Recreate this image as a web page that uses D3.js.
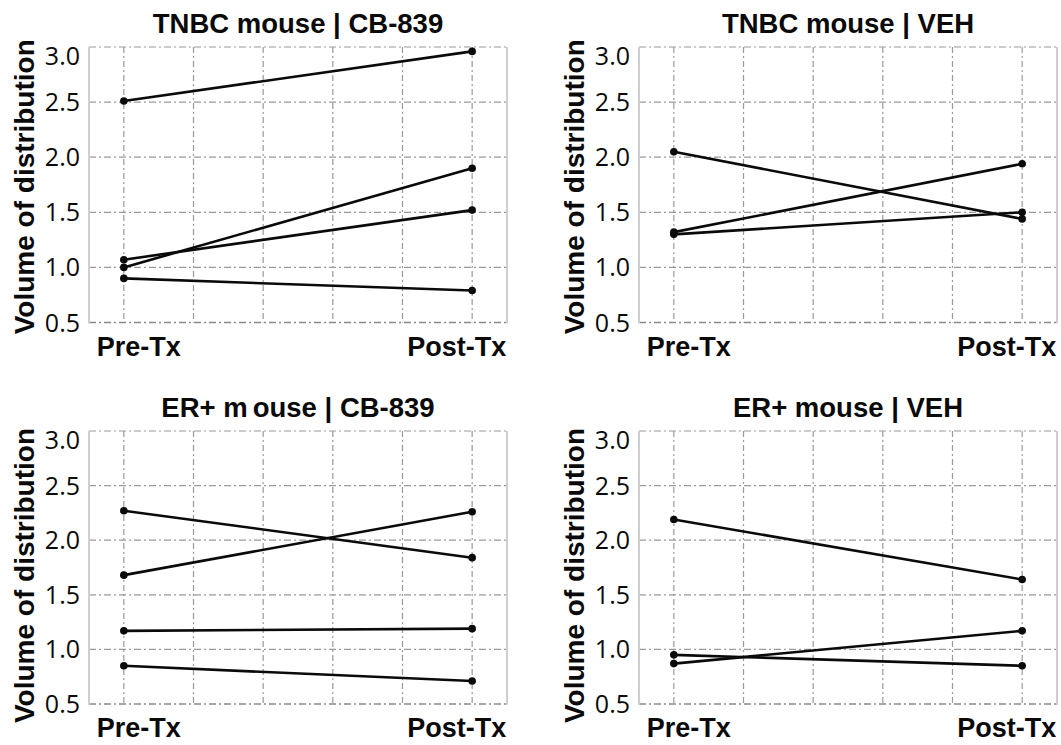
<!DOCTYPE html>
<html>
<head>
<meta charset="utf-8">
<script src="https://cdn.jsdelivr.net/npm/d3@7"></script>
<style>
  html, body { margin: 0; padding: 0; background: #fff; }
  svg { display: block; }
</style>
</head>
<body>
<svg id="chart" width="1061" height="745"></svg>
<script>
// Time points and axis ticks
const phases = ["Pre-Tx", "Post-Tx"];
const yTicks = [0.5, 1.0, 1.5, 2.0, 2.5, 3.0];
const yTickLabels = ["0.5", "1.0", "1.5", "2.0", "2.5", "3.0"];
const yAxisTitle = "Volume of distribution";

// Panel titles (row-major); the ER+ CB-839 title is typeset with a gap after "m"
const panelTitles = ["TNBC mouse | CB-839", "TNBC mouse | VEH", "ER+ mouse | CB-839", "ER+ mouse | VEH"];

// Volume of distribution per animal, before and after treatment
const tnbcCb839Pre  = [2.51, 1.07, 1.00, 0.90];
const tnbcCb839Post = [2.96, 1.52, 1.90, 0.79];
const tnbcVehPre    = [2.05, 1.32, 1.30];
const tnbcVehPost   = [1.44, 1.94, 1.50];
const erCb839Pre    = [2.27, 1.68, 1.17, 0.85];
const erCb839Post   = [1.84, 2.26, 1.19, 0.71];
const erVehPre      = [2.19, 0.95, 0.87];
const erVehPost     = [1.64, 0.85, 1.17];

const panelPre  = [tnbcCb839Pre, tnbcVehPre, erCb839Pre, erVehPre];
const panelPost = [tnbcCb839Post, tnbcVehPost, erCb839Post, erVehPost];

// Plot-area frames for the 2x2 grid
const frames = [
  { left: 89,  right: 507,  top: 47,  bottom: 322.5 },
  { left: 639, right: 1057, top: 47,  bottom: 322.5 },
  { left: 89,  right: 507,  top: 431, bottom: 704 },
  { left: 639, right: 1057, top: 431, bottom: 704 }
];

const svg = d3.select("#chart");
const gridColor = "#9a9a9a";
const frameColor = "#cfcfcf";
const inkColor = "#0a0a0a";
const boldFont = "'Liberation Sans', Arial, sans-serif";

frames.forEach((f, i) => {
  const g = svg.append("g");
  // six grid columns; the two time points sit on the outer ones
  const x = d3.scaleLinear().domain([-0.5, 5.5]).range([f.left, f.right]);
  const y = d3.scaleLinear().domain([0.5, 3.0]).range([f.bottom, f.top]);
  const xPos = { "Pre-Tx": x(0), "Post-Tx": x(5) };

  // vertical dash-dot grid lines
  g.selectAll("line.vgrid").data(d3.range(0, 6)).join("line")
    .attr("class", "vgrid")
    .attr("x1", d => x(d)).attr("x2", d => x(d))
    .attr("y1", f.top).attr("y2", f.bottom)
    .attr("stroke", gridColor).attr("stroke-width", 1.2)
    .attr("stroke-dasharray", "6,3,2,3");

  // horizontal dash-dot grid lines (incl. top and bottom edges)
  g.selectAll("line.hgrid").data(yTicks).join("line")
    .attr("class", "hgrid")
    .attr("x1", f.left).attr("x2", f.right)
    .attr("y1", d => y(d)).attr("y2", d => y(d))
    .attr("stroke", d => (d === 0.5 ? "#8a8a8a" : gridColor))
    .attr("stroke-width", d => (d === 0.5 ? 1.6 : 1.2))
    .attr("stroke-dasharray", "7,3,2,3");

  // solid side frame lines
  [f.left, f.right].forEach(xx => {
    g.append("line")
      .attr("x1", xx).attr("x2", xx)
      .attr("y1", f.top).attr("y2", f.bottom + 1)
      .attr("stroke", frameColor).attr("stroke-width", 2);
  });

  // y tick labels (the top one sits a little below its grid line)
  g.selectAll("text.ytick").data(yTicks).join("text")
    .attr("class", "ytick")
    .attr("x", f.left - 9)
    .attr("y", d => y(d) + (d === 3.0 ? 9 : 0))
    .attr("dy", "0.36em")
    .attr("text-anchor", "end")
    .attr("font-family", "'Open Sans', 'Noto Sans', sans-serif")
    .attr("font-size", 25)
    .attr("fill", inkColor)
    .text((d, k) => yTickLabels[k]);

  // y axis title
  const cy = (f.top + f.bottom) / 2 + (i < 2 ? 2 : 8);
  g.append("text")
    .attr("transform", `translate(${f.left - 55},${cy}) rotate(-90)`)
    .attr("text-anchor", "middle")
    .attr("font-family", boldFont)
    .attr("font-weight", "bold")
    .attr("font-size", 28)
    .attr("fill", inkColor)
    .text(yAxisTitle);

  // x category labels
  g.append("text")
    .attr("x", xPos["Pre-Tx"] - 27)
    .attr("y", f.bottom + 33)
    .attr("text-anchor", "start")
    .attr("font-family", boldFont)
    .attr("font-weight", "bold")
    .attr("font-size", 27)
    .attr("fill", inkColor)
    .text(phases[0]);
  g.append("text")
    .attr("x", xPos["Post-Tx"] + 34)
    .attr("y", f.bottom + 33)
    .attr("text-anchor", "end")
    .attr("font-family", boldFont)
    .attr("font-weight", "bold")
    .attr("font-size", 27)
    .attr("fill", inkColor)
    .text(phases[1]);

  // panel title
  const title = g.append("text")
    .attr("x", (f.left + f.right) / 2)
    .attr("y", f.top - 14)
    .attr("text-anchor", "middle")
    .attr("font-family", boldFont)
    .attr("font-weight", "bold")
    .attr("font-size", 27.5)
    .attr("fill", inkColor);
  if (i === 2) {
    const t = panelTitles[i];
    const cut = t.indexOf("m") + 1;
    title.append("tspan").text(t.slice(0, cut));
    title.append("tspan").attr("dx", 5).text(t.slice(cut));
  } else {
    title.text(panelTitles[i]);
  }

  // paired lines, one per animal
  const pairs = panelPre[i].map((v, k) => [
    { phase: phases[0], v: v },
    { phase: phases[1], v: panelPost[i][k] }
  ]);
  const line = d3.line().x(d => xPos[d.phase]).y(d => y(d.v));
  g.selectAll("path.pair").data(pairs).join("path")
    .attr("class", "pair")
    .attr("d", line)
    .attr("fill", "none")
    .attr("stroke", inkColor)
    .attr("stroke-width", 2.6);

  g.selectAll("circle.pt").data(pairs.flat()).join("circle")
    .attr("class", "pt")
    .attr("cx", d => xPos[d.phase])
    .attr("cy", d => y(d.v))
    .attr("r", 3.8)
    .attr("fill", inkColor);
});
</script>
</body>
</html>
